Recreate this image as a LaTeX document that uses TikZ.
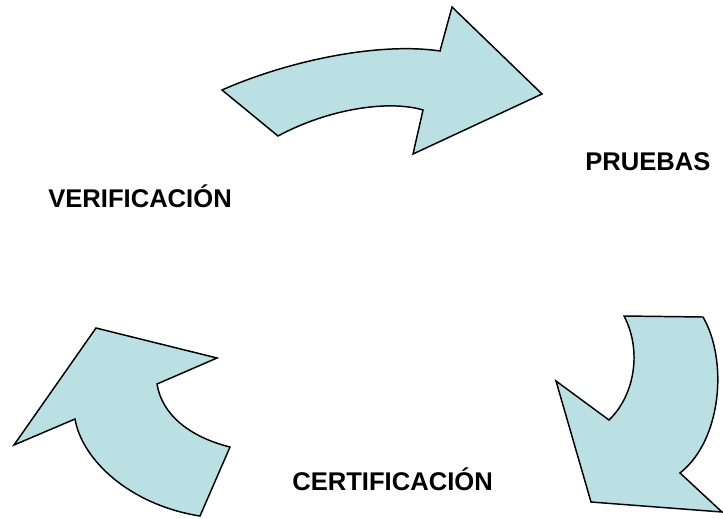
\documentclass[tikz,border=0pt]{standalone}
\usepackage{fontspec}
\setmainfont{Liberation Sans}
\usepackage{tikz}
\usetikzlibrary{calc}

\definecolor{arrowfill}{RGB}{187,224,228}

\begin{document}
\begin{tikzpicture}[x=0.75pt, y=-0.75pt,
	flecha/.style={fill=arrowfill, draw=black, line width=1.1pt, line join=miter},
	etiqueta/.style={font=\fontsize{19.2}{22}\selectfont\bfseries, inner sep=0pt}]
	\useasboundingbox (0,0) rectangle (723,518);
	
	% top arrow (verificacion -> pruebas)
	\coordinate (T1) at (222,90);
	\coordinate (T2) at (278,136);
	\coordinate (T3) at (423,110);
	\coordinate (T4) at (413,154);
	\coordinate (T5) at (542,94);
	\coordinate (T6) at (452,7);
	\coordinate (T7) at (440,51);
	\draw[flecha] (T1) -- (T2) .. controls (330,108) and (390,100) .. (T3)
		-- (T4) -- (T5) -- (T6) -- (T7)
		.. controls (380,42) and (290,60) .. (T1) -- cycle;
	
	% right arrow (pruebas -> certificacion)
	\coordinate (R1) at (624,316);
	\coordinate (R2) at (703,317);
	\coordinate (R3) at (680,473);
	\coordinate (R4) at (722,512);
	\coordinate (R5) at (591,502);
	\coordinate (R6) at (556,381);
	\coordinate (R7) at (609,420);
	\draw[flecha] (R1) -- (R2) .. controls (728,360) and (722,440) .. (R3)
		-- (R4) -- (R5) -- (R6) -- (R7)
		.. controls (635,395) and (642,350) .. (R1) -- cycle;
	
	% left arrow (certificacion -> verificacion)
	\coordinate (L1) at (200,516);
	\coordinate (L2) at (230,447);
	\coordinate (L3) at (157,384);
	\coordinate (L4) at (217,358);
	\coordinate (L5) at (96,328);
	\coordinate (L6) at (14,445);
	\coordinate (L7) at (75,419);
	\draw[flecha] (L1) -- (L2) .. controls (190,437) and (162,415) .. (L3)
		-- (L4) -- (L5) -- (L6) -- (L7)
		.. controls (82,460) and (130,505) .. (L1) -- cycle;
	
	% labels
	\node[etiqueta, anchor=base west] (pruebas) at (585,170) {PRUEBAS};
	\node[etiqueta, anchor=base east] (verificacion) at (232,207) {VERIFICACIÓN};
	\node[etiqueta, anchor=base west] (certificacion) at (292,490) {CERTIFICACIÓN};
\end{tikzpicture}
\end{document}
